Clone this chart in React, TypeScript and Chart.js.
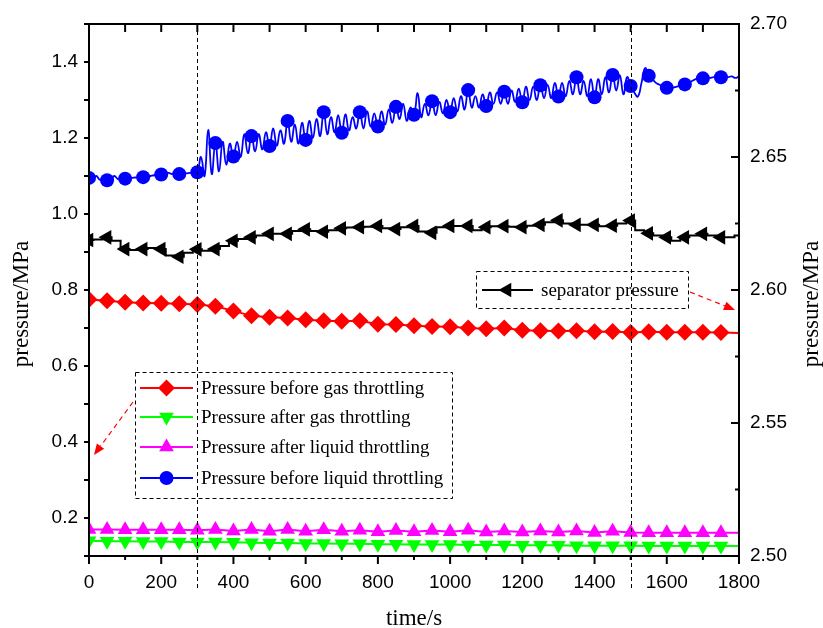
import React, { useEffect, useRef } from "react";
import { Chart, registerables } from "chart.js";

Chart.register(...registerables);

// ---------- data ----------
const xTicks = [0, 200, 400, 600, 800, 1000, 1200, 1400, 1600, 1800];
const leftTicks = [0.2, 0.4, 0.6, 0.8, 1.0, 1.2, 1.4];
const rightTicks = [2.5, 2.55, 2.6, 2.65, 2.7];
const eventTimes = [300, 1500];

const t50 = Array.from({ length: 37 }, (_, i) => i * 50); // 0..1800
const t25 = Array.from({ length: 73 }, (_, i) => i * 25); // 0..1800
const t10 = Array.from({ length: 181 }, (_, i) => i * 10); // 0..1800

const gasBefore = [
  0.775, 0.772, 0.768, 0.766, 0.765, 0.764, 0.762, 0.757, 0.745, 0.732,
  0.728, 0.726, 0.722, 0.719, 0.718, 0.719, 0.71, 0.709, 0.706, 0.704,
  0.703, 0.7, 0.698, 0.7, 0.694, 0.693, 0.692, 0.693, 0.69, 0.691,
  0.688, 0.69, 0.689, 0.689, 0.689, 0.688, 0.687,
];

const gasAfter = [
  0.14, 0.139, 0.139, 0.138, 0.138, 0.137, 0.137, 0.137, 0.136, 0.135,
  0.134, 0.134, 0.133, 0.133, 0.132, 0.132, 0.131, 0.131, 0.13, 0.13,
  0.13, 0.129, 0.129, 0.129, 0.128, 0.128, 0.128, 0.127, 0.127, 0.127,
  0.127, 0.126, 0.126, 0.126, 0.126, 0.126, 0.126,
];

const liquidAfter = [
  0.17, 0.17, 0.169, 0.169, 0.169, 0.169, 0.168, 0.17, 0.166, 0.17,
  0.165, 0.17, 0.165, 0.169, 0.165, 0.168, 0.164, 0.167, 0.164, 0.167,
  0.164, 0.168, 0.163, 0.166, 0.163, 0.166, 0.163, 0.166, 0.162, 0.165,
  0.162, 0.161, 0.161, 0.161, 0.161, 0.161, 0.161,
];

const liquidBefore = [
  1.095, 1.092, 1.1, 1.09, 1.09, 1.089, 1.09, 1.1, 1.092, 1.093,
  1.093, 1.094, 1.095, 1.096, 1.096, 1.097, 1.098, 1.1, 1.102, 1.103,
  1.104, 1.104, 1.108, 1.105, 1.105, 1.105, 1.106, 1.107, 1.108, 1.109,
  1.11, 1.15, 1.1, 1.221, 1.105, 1.187, 1.112, 1.19, 1.13, 1.185,
  1.151, 1.19, 1.15, 1.21, 1.16, 1.205, 1.165, 1.21, 1.17, 1.215,
  1.179, 1.225, 1.18, 1.22, 1.185, 1.245, 1.19, 1.235, 1.185, 1.24,
  1.195, 1.245, 1.2, 1.25, 1.205, 1.268, 1.21, 1.255, 1.215, 1.26,
  1.214, 1.262, 1.22, 1.255, 1.225, 1.268, 1.225, 1.27, 1.23, 1.265,
  1.23, 1.27, 1.235, 1.275, 1.24, 1.282, 1.25, 1.29, 1.245, 1.28,
  1.261, 1.318, 1.255, 1.29, 1.26, 1.297, 1.26, 1.295, 1.265, 1.3,
  1.268, 1.305, 1.27, 1.31, 1.275, 1.326, 1.28, 1.31, 1.28, 1.315,
  1.284, 1.32, 1.29, 1.32, 1.29, 1.322, 1.29, 1.325, 1.295, 1.33,
  1.294, 1.335, 1.3, 1.335, 1.3, 1.339, 1.305, 1.34, 1.305, 1.345,
  1.309, 1.345, 1.31, 1.35, 1.315, 1.36, 1.315, 1.35, 1.31, 1.355,
  1.307, 1.355, 1.315, 1.36, 1.32, 1.366, 1.325, 1.365, 1.315, 1.36,
  1.337, 1.32, 1.309, 1.345, 1.384, 1.364, 1.355, 1.345, 1.34, 1.335,
  1.332, 1.332, 1.333, 1.336, 1.338, 1.341, 1.345, 1.35, 1.355, 1.356,
  1.357, 1.356, 1.358, 1.36, 1.358, 1.36, 1.358, 1.36, 1.362, 1.358,
  1.362,
];

const separator = [
  2.6188, 2.619, 2.6198, 2.6185, 2.6154, 2.615, 2.6154, 2.6158, 2.6154, 2.613,
  2.6125, 2.614, 2.6153, 2.6148, 2.6154, 2.6165, 2.6185, 2.6192, 2.6198, 2.6205,
  2.6211, 2.6211, 2.6211, 2.6222, 2.6228, 2.6222, 2.6219, 2.6225, 2.6232, 2.6235,
  2.6236, 2.6238, 2.6241, 2.6232, 2.6229, 2.6236, 2.6241, 2.622, 2.6215, 2.6236,
  2.6241, 2.6241, 2.6241, 2.6225, 2.6236, 2.624, 2.624, 2.6238, 2.6236, 2.6242,
  2.6245, 2.6255, 2.6262, 2.625, 2.6245, 2.6245, 2.6245, 2.624, 2.6242, 2.625,
  2.6261, 2.6225, 2.6213, 2.6205, 2.6198, 2.6185, 2.6198, 2.6205, 2.6211, 2.6205,
  2.6198, 2.6198, 2.6205,
];

const seriesNames = [
  "Pressure before gas throttling",
  "Pressure after gas throttling",
  "Pressure after liquid throttling",
  "Pressure before liquid throttling",
];
const separatorName = "separator pressure";

// ---------- styles ----------
const SERIF = "'Liberation Serif', 'Times New Roman', serif";
const SANS = "'Liberation Sans', Arial, sans-serif";

const styles = [
  { color: "#ff0000", shape: "rectRot", rot: 0, r: 8.5 },
  { color: "#00ff00", shape: "triangle", rot: 180, r: 8.5 },
  { color: "#ff00ff", shape: "triangle", rot: 0, r: 8.5 },
  { color: "#0000ff", shape: "circle", rot: 0, r: 7 },
];
const sepStyle = { color: "#000000", shape: "triangle", rot: -90, r: 8.5 };

function pts(ts: number[], vs: number[]) {
  return ts.map((t, i) => ({ x: t, y: vs[i] }));
}

function markerRadius(r: number) {
  return (ctx: any) => {
    const x = ctx.raw ? ctx.raw.x : -1;
    return x % 50 === 0 && x < 1800 ? r : 0;
  };
}

function drawShape(ctx: CanvasRenderingContext2D, s: any, x: number, y: number) {
  ctx.save();
  ctx.fillStyle = s.color;
  ctx.beginPath();
  if (s.shape === "circle") {
    ctx.arc(x, y, s.r, 0, Math.PI * 2);
  } else if (s.shape === "rectRot") {
    ctx.moveTo(x, y - s.r);
    ctx.lineTo(x + s.r, y);
    ctx.lineTo(x, y + s.r);
    ctx.lineTo(x - s.r, y);
  } else {
    let a = (s.rot * Math.PI) / 180;
    ctx.moveTo(x + Math.sin(a) * s.r, y - Math.cos(a) * s.r);
    a += (2 * Math.PI) / 3;
    ctx.lineTo(x + Math.sin(a) * s.r, y - Math.cos(a) * s.r);
    a += (2 * Math.PI) / 3;
    ctx.lineTo(x + Math.sin(a) * s.r, y - Math.cos(a) * s.r);
  }
  ctx.closePath();
  ctx.fill();
  ctx.restore();
}

function line(ctx: CanvasRenderingContext2D, x1: number, y1: number, x2: number, y2: number) {
  ctx.beginPath();
  ctx.moveTo(x1, y1);
  ctx.lineTo(x2, y2);
  ctx.stroke();
}

function arrow(ctx: CanvasRenderingContext2D, x1: number, y1: number, x2: number, y2: number) {
  const ang = Math.atan2(y2 - y1, x2 - x1);
  const hl = 11;
  const hw = 4.5;
  const bx = x2 - Math.cos(ang) * hl;
  const by = y2 - Math.sin(ang) * hl;
  ctx.save();
  ctx.strokeStyle = "#ff0000";
  ctx.fillStyle = "#ff0000";
  ctx.lineWidth = 1.2;
  ctx.setLineDash([5, 4]);
  line(ctx, x1, y1, bx, by);
  ctx.setLineDash([]);
  ctx.beginPath();
  ctx.moveTo(x2, y2);
  ctx.lineTo(bx - Math.sin(ang) * hw, by + Math.cos(ang) * hw);
  ctx.lineTo(bx + Math.sin(ang) * hw, by - Math.cos(ang) * hw);
  ctx.closePath();
  ctx.fill();
  ctx.restore();
}

const decor = {
  id: "decor",
  afterDraw(chart: any) {
    const ctx: CanvasRenderingContext2D = chart.ctx;
    const a = chart.chartArea;
    const sx = chart.scales.x;
    const yl = chart.scales.y;
    const yr = chart.scales.y2;
    ctx.save();

    // event dashed lines
    ctx.strokeStyle = "#000";
    ctx.lineWidth = 1;
    ctx.setLineDash([4, 3]);
    eventTimes.forEach((t) => {
      const px = Math.round(sx.getPixelForValue(t)) + 0.5;
      line(ctx, px, a.top, px, a.bottom + 32);
    });
    ctx.setLineDash([]);

    // frame
    ctx.lineWidth = 2;
    ctx.strokeRect(a.left, a.top, a.right - a.left, a.bottom - a.top);

    // bottom + top ticks
    for (let i = 0; i <= 18; i++) {
      const px = sx.getPixelForValue(i * 100);
      const len = i % 2 === 0 ? 8 : 4;
      line(ctx, px, a.bottom, px, a.bottom + len);
      line(ctx, px, a.top, px, a.top + 8);
    }
    // left ticks
    for (let i = 1; i <= 15; i++) {
      const py = yl.getPixelForValue(i / 10);
      line(ctx, a.left - 5, py, a.left, py);
    }
    // right ticks (inward)
    for (let i = 0; i <= 8; i++) {
      const py = yr.getPixelForValue(2.5 + i * 0.025);
      const len = i % 2 === 0 ? 8 : 4;
      line(ctx, a.right - len, py, a.right, py);
    }

    // axis titles
    ctx.fillStyle = "#000";
    ctx.font = `23px ${SERIF}`;
    ctx.textAlign = "center";
    ctx.textBaseline = "middle";
    ctx.fillText("time/s", (a.left + a.right) / 2, 619);
    ctx.save();
    ctx.translate(22, 304);
    ctx.rotate(-Math.PI / 2);
    ctx.fillText("pressure/MPa", 0, 0);
    ctx.restore();
    ctx.save();
    ctx.translate(812, 304);
    ctx.rotate(-Math.PI / 2);
    ctx.fillText("pressure/MPa", 0, 0);
    ctx.restore();

    // legend boxes
    ctx.strokeStyle = "#000";
    ctx.lineWidth = 1;
    ctx.setLineDash([4, 3]);
    ctx.strokeRect(135.5, 372.5, 317, 126);
    ctx.strokeRect(476.5, 271.5, 212, 37);
    ctx.setLineDash([]);
    ctx.font = `19px ${SERIF}`;
    ctx.textAlign = "left";
    const rows = [388, 417, 447, 478];
    seriesNames.forEach((name, i) => {
      const y = rows[i];
      ctx.strokeStyle = styles[i].color;
      ctx.lineWidth = 2;
      line(ctx, 140, y, 193, y);
      drawShape(ctx, styles[i], 166.5, y);
      ctx.fillStyle = "#000";
      ctx.fillText(name, 201, y + 1);
    });
    ctx.strokeStyle = "#000";
    ctx.lineWidth = 2;
    line(ctx, 482, 290, 533, 290);
    drawShape(ctx, sepStyle, 507, 290);
    ctx.fillStyle = "#000";
    ctx.fillText(separatorName, 541, 291);

    // arrows
    arrow(ctx, 133, 402, 94, 455);
    arrow(ctx, 690, 292, 735, 310);

    ctx.restore();
  },
};

export default function App() {
  const ref = useRef<HTMLCanvasElement>(null);

  useEffect(() => {
    document.body.style.margin = "0";
    document.body.style.overflow = "hidden";
    const canvas = ref.current;
    if (!canvas) return;

    const mk = (label: string, ts: number[], vs: number[], s: any, axis: string, extra: any = {}) => ({
      label,
      data: pts(ts, vs),
      yAxisID: axis,
      borderColor: s.color,
      backgroundColor: s.color,
      borderWidth: 2,
      pointStyle: s.shape,
      rotation: s.rot,
      pointRadius: markerRadius(s.r),
      pointHoverRadius: 0,
      pointBackgroundColor: s.color,
      pointBorderColor: s.color,
      pointBorderWidth: 0,
      fill: false,
      tension: 0,
      ...extra,
    });

    const tickFont = { family: SANS, size: 19 };

    const chart = new Chart(canvas, {
      type: "line",
      data: {
        datasets: [
          mk(separatorName, t25, separator, sepStyle, "y2", { stepped: "middle" }),
          mk(seriesNames[0], t50, gasBefore, styles[0], "y"),
          mk(seriesNames[1], t50, gasAfter, styles[1], "y"),
          mk(seriesNames[2], t50, liquidAfter, styles[2], "y"),
          mk(seriesNames[3], t10, liquidBefore, styles[3], "y", { borderWidth: 1.8, tension: 0.45 }),
        ] as any,
      },
      options: {
        animation: false,
        responsive: false,
        devicePixelRatio: 1,
        parsing: false as any,
        normalized: true,
        layout: { padding: { top: 24, left: 0, right: 0, bottom: 0 } },
        plugins: { legend: { display: false }, tooltip: { enabled: false } },
        scales: {
          x: {
            type: "linear",
            min: 0,
            max: 1800,
            grid: { display: false, drawTicks: false },
            border: { display: false },
            afterBuildTicks: (s: any) => {
              s.ticks = xTicks.map((v) => ({ value: v }));
            },
            afterFit: (s: any) => {
              s.height = 72;
            },
            ticks: {
              padding: 15,
              color: "#000",
              font: tickFont,
              maxRotation: 0,
              autoSkip: false,
              callback: (v: any) => String(v),
            },
          },
          y: {
            type: "linear",
            position: "left",
            min: 0.1,
            max: 1.5,
            grid: { display: false, drawTicks: false },
            border: { display: false },
            afterBuildTicks: (s: any) => {
              s.ticks = leftTicks.map((v) => ({ value: v }));
            },
            afterFit: (s: any) => {
              s.width = 89;
            },
            ticks: {
              padding: 11,
              color: "#000",
              font: tickFont,
              autoSkip: false,
              callback: (v: any) => Number(v).toFixed(1),
            },
          },
          y2: {
            type: "linear",
            position: "right",
            min: 2.5,
            max: 2.7,
            grid: { display: false, drawTicks: false },
            border: { display: false },
            afterBuildTicks: (s: any) => {
              s.ticks = rightTicks.map((v) => ({ value: v }));
            },
            afterFit: (s: any) => {
              s.width = 84;
            },
            ticks: {
              padding: 11,
              color: "#000",
              font: tickFont,
              autoSkip: false,
              callback: (v: any) => Number(v).toFixed(2),
            },
          },
        },
      } as any,
      plugins: [decor],
    });

    return () => chart.destroy();
  }, []);

  return (
    <div style={{ width: 823, height: 628, background: "#fff" }}>
      <canvas ref={ref} width={823} height={628} style={{ display: "block" }} />
    </div>
  );
}
